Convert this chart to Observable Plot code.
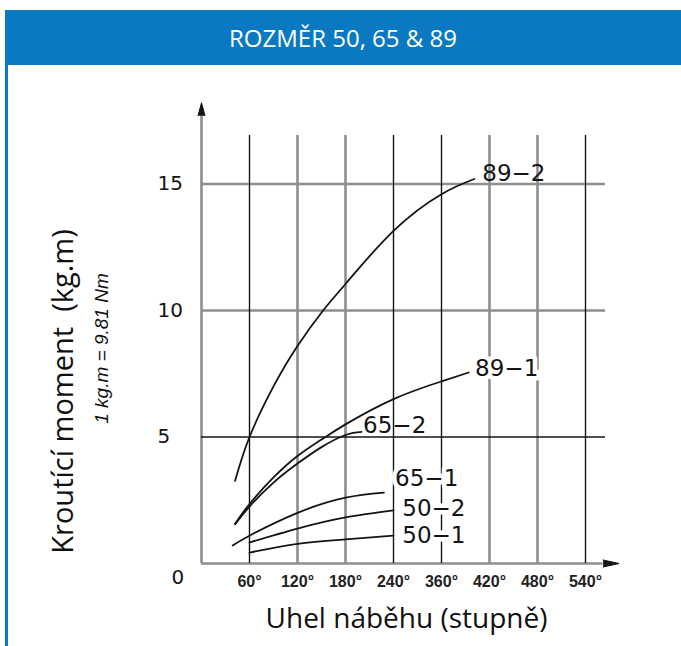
<!DOCTYPE html>
<html><head><meta charset="utf-8">
<script src="https://cdn.jsdelivr.net/npm/d3@7"></script>
<script src="https://cdn.jsdelivr.net/npm/@observablehq/plot@0.6"></script>
<style>
html,body{margin:0;padding:0;background:#fff;width:681px;height:646px;overflow:hidden;}
#chart{position:absolute;left:0;top:0;}
#header{position:absolute;left:5px;top:10px;width:676px;height:55px;background:#0a79c2;color:#fff;font-family:"Open Sans",sans-serif;font-size:24px;line-height:55px;text-align:center;}
#border{position:absolute;left:5px;top:65px;width:3px;height:581px;background:#0a79c2;}
</style></head>
<body>
<div id="chart"></div>
<div id="header">ROZMĚR 50, 65 &amp; 89</div>
<div id="border"></div>
<script>
// ---- data ----
const xTickPos = [60, 120, 180, 240, 300, 360, 420, 480];
const xTickLabels = ["60°", "120°", "180°", "240°", "360°", "420°", "480°", "540°"];
const yTickValues = [0, 5, 10, 15];
const seriesNames = ["89-2", "89-1", "65-2", "65-1", "50-2", "50-1"];
const curve89_2 = [[42,3.27],[60,5.0],[90,7.0],[120,8.6],[152,10.0],[180,11.05],[240,13.15],[300,14.6],[341,15.2]];
const curve89_1 = [[42,1.57],[60,2.35],[90,3.4],[120,4.25],[150,4.9],[180,5.5],[240,6.5],[300,7.2],[334,7.55]];
const curve65_2 = [[42,1.55],[60,2.25],[90,3.2],[120,3.95],[150,4.6],[180,5.08],[200,5.2]];
const curve65_1 = [[39,0.71],[60,1.1],[120,2.0],[180,2.6],[228,2.8]];
const curve50_2 = [[60,0.83],[120,1.38],[180,1.82],[240,2.1]];
const curve50_1 = [[60,0.43],[120,0.78],[180,0.95],[240,1.1]];
const yTitle = "Kroutící moment  (kg.m)";
const ySubTitle = "1 kg.m = 9.81 Nm";
const xTitle = "Uhel náběhu (stupně)";

// ---- build ----
const series = [curve89_2, curve89_1, curve65_2, curve65_1, curve50_2, curve50_1];
const lineData = series.flatMap((pts, i) => pts.map(([a, t]) => ({name: seriesNames[i], a, t})));
const labelAt = {"89-2": [351, 15.4], "89-1": [342, 7.7], "65-2": [202, 5.45], "65-1": [242, 3.36], "50-2": [251, 2.17], "50-1": [251, 1.1]};
const haloed = new Set(["89-1", "65-1", "50-2", "50-1"]);
const labels = seriesNames.map(n => ({text: n.replace("-", "\u2212"), a: labelAt[n][0], t: labelAt[n][1], halo: haloed.has(n)}));
const darkX = new Set([60, 240, 300, 480]);
const darkY = new Set([5]);
const GRAY = "#8e8e8e", INK = "#141414";
const tickFont = {fontFamily: "DejaVu Sans", fontSize: 20, fill: INK};
const lblFont = {fontFamily: "DejaVu Sans", fontSize: 23, fill: INK, textAnchor: "start", lineAnchor: "middle"};

const chart = Plot.plot({
  width: 681, height: 646,
  marginLeft: 201, marginRight: 48, marginTop: 95, marginBottom: 83,
  x: {domain: [0, 540], axis: null},
  y: {domain: [0, 18.5], axis: null},
  style: {background: "none", overflow: "visible"},
  marks: [
    Plot.ruleX(xTickPos.filter(v => !darkX.has(v)), {x: d => d, y1: 0, y2: 16.92, stroke: GRAY, strokeWidth: 2.6}),
    Plot.ruleY(yTickValues.filter(v => v > 0 && !darkY.has(v)), {y: d => d, x1: 0, x2: 505, stroke: GRAY, strokeWidth: 2.6}),
    Plot.ruleY([0], {y: d => d, x1: 0, x2: 502, stroke: GRAY, strokeWidth: 2.6}),
    Plot.ruleX([0], {x: d => d, y1: 0, y2: 17.7, stroke: GRAY, strokeWidth: 2.6}),
    Plot.ruleX(xTickPos.filter(v => darkX.has(v)), {x: d => d, y1: 0, y2: 16.92, stroke: INK, strokeWidth: 1.4}),
    Plot.ruleY(yTickValues.filter(v => darkY.has(v)), {y: d => d, x1: 0, x2: 505, stroke: INK, strokeWidth: 1.4}),
    Plot.vector([0], {x: 502, y: 0, length: 16, rotate: 90, shape: "spike", r: 3.5, anchor: "start", fill: INK, stroke: INK, strokeWidth: 1}),
    Plot.vector([0], {x: 0, y: 17.7, length: 13, rotate: 0, shape: "spike", r: 3.5, anchor: "start", fill: INK, stroke: INK, strokeWidth: 1}),
    Plot.line(lineData, {x: "a", y: "t", z: "name", curve: "natural", stroke: INK, strokeWidth: 1.8}),
    Plot.text(labels.filter(d => d.halo), {x: "a", y: "t", text: "text", ...lblFont, stroke: "white", strokeWidth: 9}),
    Plot.text(labels.filter(d => !d.halo), {x: "a", y: "t", text: "text", ...lblFont}),
    Plot.text(xTickPos, {x: d => d, frameAnchor: "bottom", dy: 23, text: (d, i) => xTickLabels[i], fontFamily: "Liberation Sans", fontWeight: "bold", fontSize: 16, fill: "#222", letterSpacing: "-1.2px"}),
    Plot.text(yTickValues.filter(v => v > 0), {y: d => d, frameAnchor: "left", dx: -44, textAnchor: "start", text: d => String(d), ...tickFont}),
    Plot.text(yTickValues.filter(v => v === 0), {y: d => d, frameAnchor: "left", dx: -30, dy: 14, textAnchor: "start", text: d => String(d), ...tickFont}),
    Plot.text([yTitle], {frameAnchor: "left", dx: -138, dy: 62, rotate: -90, textAnchor: "middle", text: d => d, fontFamily: "Open Sans", fontSize: 29, fill: "#111"}),
    Plot.text([ySubTitle], {frameAnchor: "left", dx: -100, dy: 19, rotate: -90, textAnchor: "middle", text: d => d, fontFamily: "Liberation Sans", fontStyle: "italic", fontSize: 19, fill: "#111"}),
    Plot.text([xTitle], {frameAnchor: "bottom", dx: -11, dy: 64, textAnchor: "middle", text: d => d, fontFamily: "Open Sans", fontSize: 28, fill: "#111"})
  ]
});
document.getElementById("chart").appendChild(chart);
</script>
</body></html>
